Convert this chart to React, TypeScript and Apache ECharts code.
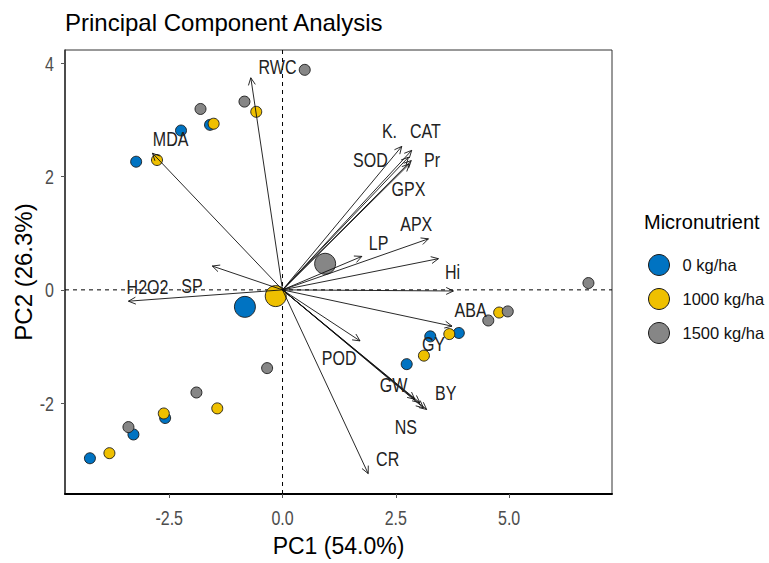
import React, { useEffect, useRef } from "react";
import * as echarts from "echarts";

// ---- Data ----
const groupNames = ["0 kg/ha", "1000 kg/ha", "1500 kg/ha"];
const groupColors = ["#0073C2", "#EFC000", "#868686"];

const pts0: number[][] = [
  [-1.6, 2.91], [-2.24, 2.81], [-3.23, 2.26], [-2.59, -2.26], [-3.29, -2.55],
  [-4.25, -2.97], [3.89, -0.76], [3.26, -0.82], [2.74, -1.31],
];
const pts1000: number[][] = [
  [-0.58, 3.14], [-1.52, 2.93], [-2.77, 2.29], [-1.44, -2.09], [-2.62, -2.18],
  [-3.82, -2.88], [4.78, -0.4], [3.68, -0.78], [3.12, -1.16],
];
const pts1500: number[][] = [
  [0.49, 3.88], [-0.84, 3.32], [-1.81, 3.19], [-0.34, -1.38], [-1.9, -1.81],
  [-3.4, -2.42], [6.75, 0.12], [4.97, -0.38], [4.54, -0.54],
];
const centroids: number[][] = [[-0.83, -0.3], [-0.15, -0.11], [0.94, 0.46]];

// variable loadings (arrow tips)
const arrowTips: number[][] = [
  [-0.7, 3.74], [-2.87, 2.41], [-3.4, -0.2], [-1.55, 0.42],
  [2.63, 2.53], [2.85, 2.46], [2.78, 2.34], [2.84, 2.28], [2.8, 2.22],
  [3.22, 0.9], [1.75, 0.59], [3.44, 0.55], [3.77, -0.02],
  [3.74, -0.64], [1.71, -0.9],
  [2.92, -1.93], [3.03, -1.99], [3.11, -2.08], [3.18, -2.11],
  [1.89, -3.24],
];

// variable labels (repelled label positions)
const varLabels = ["RWC", "MDA", "K.", "CAT", "SOD", "Pr", "GPX", "APX", "LP", "Hi", "H2O2", "SP", "ABA", "GY", "POD", "GW", "BY", "NS", "CR"];
const varLabelX = [-0.11, -2.47, 2.36, 3.15, 1.94, 3.3, 2.78, 2.95, 2.12, 3.75, -2.98, -2.0, 4.15, 3.33, 1.25, 2.45, 3.6, 2.72, 2.32];
const varLabelY = [3.93, 2.66, 2.8, 2.8, 2.29, 2.29, 1.78, 1.16, 0.82, 0.31, 0.04, 0.07, -0.36, -0.96, -1.21, -1.68, -1.82, -2.42, -2.99];

const xTicks = [-2.5, 0, 2.5, 5];
const yTicks = [-2, 0, 2, 4];

const SANS = "'Liberation Sans', Arial, sans-serif";
const NARROW_SCALE = 0.8;

export default function App() {
  const ref = useRef<HTMLDivElement>(null);

  useEffect(() => {
    if (!ref.current) return;
    const chart = echarts.init(ref.current, null, { renderer: "svg" });
    const groupPts = [pts0, pts1000, pts1500];

    const scatterSeries = groupNames.map((name, gi) => ({
      type: "scatter",
      name,
      z: 3,
      data: [
        ...groupPts[gi].map((p) => ({ value: p, symbolSize: 11 })),
        { value: centroids[gi], symbolSize: 21 },
      ],
      symbol: "circle",
      itemStyle: { color: groupColors[gi], borderColor: "#1a1a1a", borderWidth: 0.9, opacity: 1 },
      emphasis: { disabled: true },
    }));

    const option: any = {
      animation: false,
      backgroundColor: "#ffffff",
      title: [
        {
          text: "Principal Component Analysis",
          left: 60,
          top: 5,
          textStyle: { fontFamily: SANS, fontSize: 24, fontWeight: "normal", color: "#000" },
        },
        {
          text: "Micronutrient",
          left: 639,
          top: 207,
          textStyle: { fontFamily: SANS, fontSize: 20, fontWeight: "normal", color: "#000" },
        },
      ],
      legend: {
        data: groupNames,
        orient: "vertical",
        left: 643,
        top: 249,
        itemWidth: 21,
        itemHeight: 21,
        itemGap: 12,
        icon: "circle",
        itemStyle: { borderColor: "#1a1a1a", borderWidth: 1 },
        textStyle: { fontFamily: SANS, fontSize: 16.5, color: "#111", padding: [0, 0, 0, 8] },
        selectedMode: false,
      },
      grid: {
        left: 65,
        right: 157,
        top: 50,
        bottom: 69,
        show: true,
        borderColor: "#333",
        borderWidth: 1,
        backgroundColor: "#fff",
      },
      xAxis: {
        type: "value",
        min: -4.8,
        max: 7.27,
        name: "PC1 (54.0%)",
        nameLocation: "middle",
        nameGap: 40,
        nameTextStyle: { fontFamily: SANS, fontSize: 23, color: "#000" },
        splitLine: { show: false },
        axisLine: { show: true, onZero: false, lineStyle: { color: "#000", width: 2 } },
        axisTick: { show: true, length: 4, lineStyle: { color: "#555" }, customValues: xTicks },
        axisLabel: { show: false },
      },
      yAxis: {
        type: "value",
        min: -3.6,
        max: 4.23,
        name: "PC2 (26.3%)",
        nameLocation: "middle",
        nameGap: 30,
        nameTextStyle: { fontFamily: SANS, fontSize: 24, color: "#000" },
        splitLine: { show: false },
        axisLine: { show: true, onZero: false, lineStyle: { color: "#333", width: 1.5 } },
        axisTick: { show: true, length: 4, lineStyle: { color: "#555" }, customValues: yTicks },
        axisLabel: { show: false },
      },
      series: [
        {
          type: "custom",
          name: "refLines",
          z: 1,
          silent: true,
          data: [[0, 0]],
          renderItem: (params: any, api: any) => {
            const cs = params.coordSys;
            const o = api.coord([0, 0]);
            return {
              type: "group",
              children: [
                {
                  type: "line",
                  shape: { x1: o[0], y1: cs.y, x2: o[0], y2: cs.y + cs.height },
                  style: { stroke: "#000", lineWidth: 1, lineDash: [4, 4] },
                },
                {
                  type: "line",
                  shape: { x1: cs.x, y1: o[1], x2: cs.x + cs.width, y2: o[1] },
                  style: { stroke: "#000", lineWidth: 1, lineDash: [4, 4] },
                },
              ],
            };
          },
        },
        ...scatterSeries,
        {
          type: "custom",
          name: "arrows",
          z: 5,
          silent: true,
          data: arrowTips,
          renderItem: (params: any, api: any) => {
            const o = api.coord([0, 0]);
            const t = api.coord([api.value(0), api.value(1)]);
            const ang = Math.atan2(t[1] - o[1], t[0] - o[0]);
            const L = 8;
            const a = Math.PI / 7;
            const p1 = [t[0] - L * Math.cos(ang - a), t[1] - L * Math.sin(ang - a)];
            const p2 = [t[0] - L * Math.cos(ang + a), t[1] - L * Math.sin(ang + a)];
            return {
              type: "group",
              children: [
                {
                  type: "line",
                  shape: { x1: o[0], y1: o[1], x2: t[0], y2: t[1] },
                  style: { stroke: "#111", lineWidth: 0.9 },
                },
                {
                  type: "polyline",
                  shape: { points: [p1, t, p2] },
                  style: { stroke: "#111", fill: null, lineWidth: 0.9 },
                },
              ],
            };
          },
        },
        {
          type: "custom",
          name: "varLabels",
          z: 6,
          silent: true,
          data: varLabels.map((n, i) => [varLabelX[i], varLabelY[i], i]),
          renderItem: (params: any, api: any) => {
            const p = api.coord([api.value(0), api.value(1)]);
            const idx = api.value(2);
            return {
              type: "text",
              x: p[0],
              y: p[1],
              scaleX: NARROW_SCALE,
              style: {
                text: varLabels[idx],
                fill: "#222",
                font: `20px ${SANS}`,
                align: "center",
                verticalAlign: "middle",
              },
            };
          },
        },
        {
          type: "custom",
          name: "xTickLabels",
          z: 6,
          silent: true,
          clip: false,
          data: xTicks.map((v) => [v, 0]),
          renderItem: (params: any, api: any) => {
            const cs = params.coordSys;
            const v = api.value(0);
            const p = api.coord([v, 0]);
            return {
              type: "text",
              x: p[0],
              y: cs.y + cs.height + 24,
              scaleX: NARROW_SCALE,
              style: {
                text: v.toFixed(1),
                fill: "#4D4D4D",
                font: `20px ${SANS}`,
                align: "center",
                verticalAlign: "middle",
              },
            };
          },
        },
        {
          type: "custom",
          name: "yTickLabels",
          z: 6,
          silent: true,
          clip: false,
          data: yTicks.map((v) => [0, v]),
          renderItem: (params: any, api: any) => {
            const cs = params.coordSys;
            const v = api.value(1);
            const p = api.coord([0, v]);
            return {
              type: "text",
              x: cs.x - 11,
              y: p[1] + 1,
              scaleX: NARROW_SCALE,
              style: {
                text: String(v),
                fill: "#4D4D4D",
                font: `20px ${SANS}`,
                align: "right",
                verticalAlign: "middle",
              },
            };
          },
        },
      ],
    };

    chart.setOption(option);
    return () => chart.dispose();
  }, []);

  return (
    <div
      ref={ref}
      style={{ position: "fixed", left: 0, top: 0, width: 769, height: 563, background: "#fff" }}
    />
  );
}
